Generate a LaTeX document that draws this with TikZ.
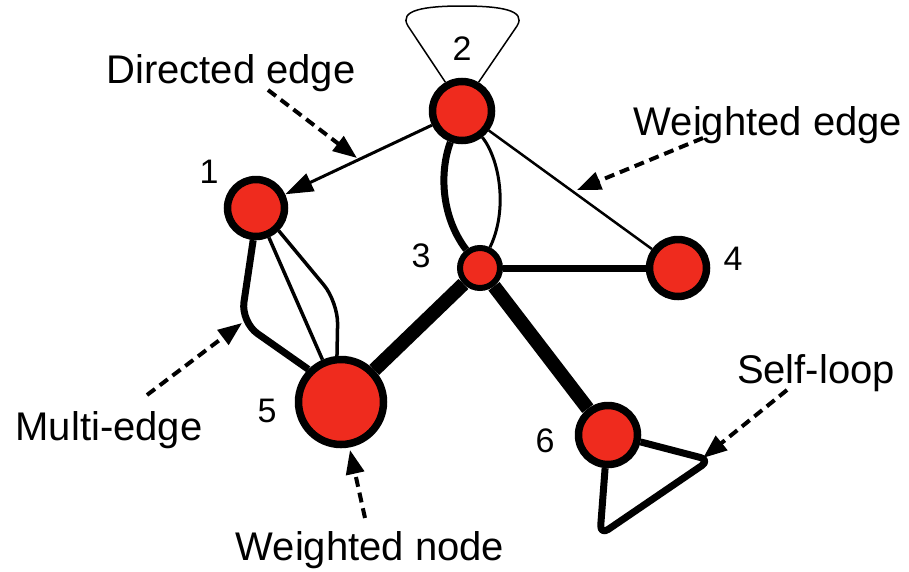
\documentclass[tikz,border=0pt]{standalone}
\usepackage{fontspec}
\setmainfont{Liberation Sans}
\usetikzlibrary{arrows.meta}
\definecolor{nodered}{RGB}{239,43,30}
\pgfdeclarelayer{edges}
\pgfsetlayers{edges,main}
\begin{document}
\begin{tikzpicture}[x=1pt,y=-1pt,
  vertex/.style={circle, draw=black, fill=nodered, line width=7.5pt, inner sep=0pt, minimum size=#1},
  num/.style={font=\fontsize{34}{40}\selectfont, anchor=base},
  callout/.style={font=\fontsize{40}{48}\selectfont, anchor=base},
  note/.style={line width=4pt, dash pattern=on 10pt off 6pt,
    -{Triangle[length=24pt,width=18pt]}},
  thin edge/.style={line width=3pt},
  mid edge/.style={line width=7pt},
  heavy edge/.style={line width=14pt}]
\useasboundingbox (0,0) rectangle (909,571);

% vertices
\node[vertex=57pt] (n1) at (256,208) {};
\node[vertex=59pt] (n2) at (462,111) {};
\node[vertex=40pt, line width=6pt] (n3) at (480,268) {};
\node[vertex=57pt] (n4) at (678,268) {};
\node[vertex=85pt] (n5) at (341,402) {};
\node[vertex=59pt] (n6) at (608,435) {};

% vertex numbers
\node[num] (l1) at (209,183) {1};
\node[num] (l2) at (462,60) {2};
\node[num] (l3) at (421,267) {3};
\node[num] (l4) at (733,270) {4};
\node[num] (l5) at (267,422) {5};
\node[num] (l6) at (545,452) {6};

% annotations
\node[callout] (tdir) at (231,83) {Directed edge};
\node[callout] (twe) at (768,135) {Weighted edge};
\node[callout] (tmul) at (109,440) {Multi-edge};
\node[callout] (tself) at (816,383) {Self-loop};
\node[callout] (twn) at (370,560) {Weighted node};

\coordinate (dirA) at (268,90);   \coordinate (dirB) at (357,158);
\coordinate (weA) at (703,138);   \coordinate (weB) at (577,190);
\coordinate (mulA) at (147,395);  \coordinate (mulB) at (242,323);
\coordinate (selfA) at (787,390); \coordinate (selfB) at (703,458);
\coordinate (wnA) at (365,518);   \coordinate (wnB) at (350,450);

\draw[note] (dirA) -- (dirB);
\draw[note] (weA) -- (weB);
\draw[note] (mulA) -- (mulB);
\draw[note] (selfA) -- (selfB);
\draw[note] (wnA) -- (wnB);

\begin{pgfonlayer}{edges}
  % directed edge
  \draw[thin edge, -{Triangle[length=28pt,width=19pt]}] (n2) -- (n1);
  % weighted edges
  \draw[line width=2.5pt] (n2) -- (n4);
  \draw[mid edge] (n3) -- (n4);
  \draw[heavy edge] (n3) -- (n5);
  \draw[heavy edge] (n3) -- (n6);
  % multi-edge between 2 and 3
  \draw[mid edge] (n2) .. controls (440,170) and (440,215) .. (n3);
  \draw[thin edge] (n2) .. controls (500,160) and (508,210) .. (n3);
  % multi-edge between 1 and 5
  \draw[mid edge, rounded corners=20pt] (n1.265) -- (241,322) -- (n5.135);
  \draw[line width=3.5pt] (n1) -- (n5);
  \draw[line width=3.5pt, rounded corners=22pt] (n1.-45) -- (338,302) -- (n5.95);
  % self-loops
  \draw[line width=1.5pt] (n2.120) -- (408,26)
    .. controls (398,10) and (425,6) .. (462,6)
    .. controls (500,6) and (527,10) .. (517,26) -- (n2.60);
  \draw[line width=7pt, rounded corners=10pt, line join=round]
    (n6.-12) -- (710,460) -- (600,535) -- (n6.-95);
\end{pgfonlayer}
\end{tikzpicture}
\end{document}
